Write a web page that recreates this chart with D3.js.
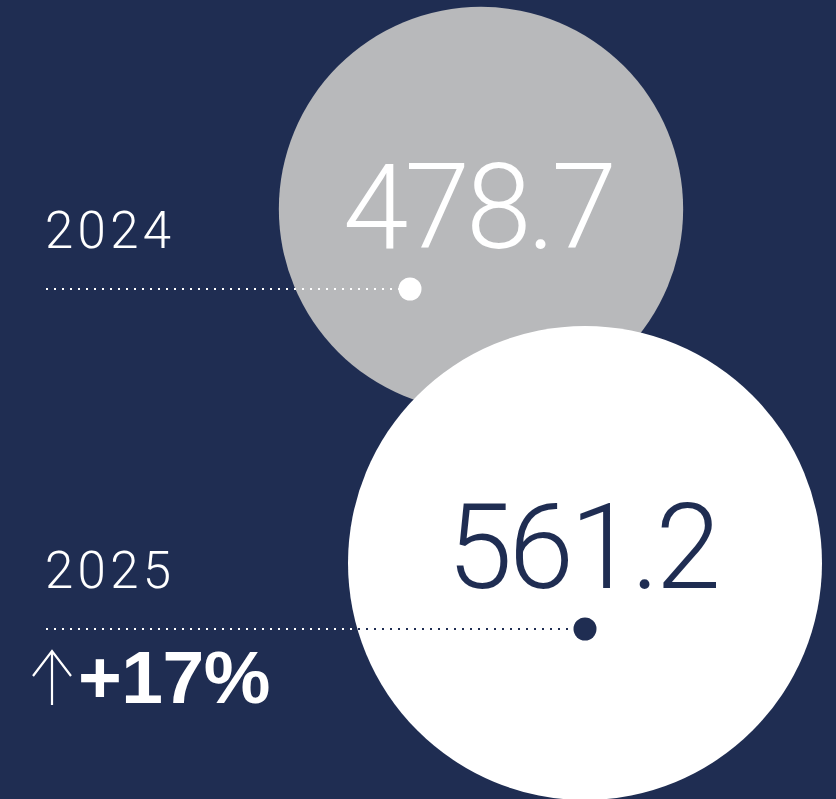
<!DOCTYPE html>
<html>
<head>
<meta charset="utf-8">
<script src="https://cdn.jsdelivr.net/npm/d3@7/dist/d3.min.js"></script>
<style>
  html, body { margin: 0; padding: 0; background: #1f2d52; }
  svg { display: block; }
</style>
</head>
<body>
<svg id="chart" width="836" height="799"></svg>
<script>
// Values per year
const years = ["2024", "2025"];
const values = [478.7, 561.2];
const valueLabels = ["478.7", "561.2"];
const changeLabel = "+17%";

const W = 836, H = 799;
const navy = "#1f2d52";
const grey = "#b8b9bb";
const white = "#ffffff";

const svg = d3.select("#chart");
svg.append("rect").attr("width", W).attr("height", H).attr("fill", navy);

// Circle radius is proportional to value
const r = d3.scaleLinear().domain([0, d3.max(values)]).range([0, 237]);

// Row baselines for the year labels / value labels
const rowY = d3.scalePoint().domain(years).range([248, 588]);

// Circle centres and marker positions per row
const layout = [
  { cx: 481, cy: 209, fill: grey, text: white, dotX: 410, dotFill: white },
  { cx: 585, cy: 563, fill: white, text: navy, dotX: 585, dotFill: navy }
];

const rows = years.map((y, i) => ({ year: y, value: values[i], label: valueLabels[i], ...layout[i] }));

const lineX0 = 46;
const lineOffset = 41;
const lightFont = "Roboto, 'Helvetica Neue', Arial, sans-serif";

// Bubbles
svg.selectAll("circle.bubble")
  .data(rows)
  .join("circle")
  .attr("class", "bubble")
  .attr("cx", d => d.cx)
  .attr("cy", d => d.cy)
  .attr("r", d => r(d.value))
  .attr("fill", d => d.fill);

// Clip region for the 2025 bubble so the leader line switches colour inside it
svg.append("clipPath").attr("id", "clip-last")
  .append("circle")
  .attr("cx", rows[1].cx).attr("cy", rows[1].cy).attr("r", r(rows[1].value));

// Dotted leader lines (white everywhere)
svg.selectAll("line.leader")
  .data(rows)
  .join("line")
  .attr("class", "leader")
  .attr("x1", lineX0)
  .attr("x2", d => d.dotX - 9)
  .attr("y1", d => rowY(d.year) + lineOffset)
  .attr("y2", d => rowY(d.year) + lineOffset)
  .attr("stroke", white)
  .attr("stroke-width", 2)
  .attr("stroke-dasharray", "2 6");

// Navy part of the 2025 leader inside the white bubble
svg.append("line")
  .attr("x1", lineX0)
  .attr("x2", rows[1].dotX - 9)
  .attr("y1", rowY(rows[1].year) + lineOffset)
  .attr("y2", rowY(rows[1].year) + lineOffset)
  .attr("stroke", navy)
  .attr("stroke-width", 2)
  .attr("stroke-dasharray", "2 6")
  .attr("clip-path", "url(#clip-last)");

// Marker dots
svg.selectAll("circle.marker")
  .data(rows)
  .join("circle")
  .attr("class", "marker")
  .attr("cx", d => d.dotX)
  .attr("cy", d => rowY(d.year) + lineOffset)
  .attr("r", 11.5)
  .attr("fill", d => d.dotFill);

// Year labels
svg.selectAll("text.year")
  .data(rows)
  .join("text")
  .attr("class", "year")
  .attr("x", 45)
  .attr("y", d => rowY(d.year))
  .attr("fill", white)
  .attr("font-family", lightFont)
  .attr("font-weight", 300)
  .attr("font-size", 51)
  .attr("letter-spacing", 4.3)
  .text(d => d.year);

// Value labels inside bubbles
svg.selectAll("text.value")
  .data(rows)
  .join("text")
  .attr("class", "value")
  .attr("x", d => d.cx - 3)
  .attr("y", d => rowY(d.year))
  .attr("text-anchor", "middle")
  .attr("fill", d => d.text)
  .attr("font-family", lightFont)
  .attr("font-weight", 300)
  .attr("font-size", 118)
  .attr("letter-spacing", -4)
  .text(d => d.label);

// Change indicator: arrow + percentage
const changeY = 703;
svg.append("path")
  .attr("d", "M52,705 L52,651 M33,676 L52,651 L71,676")
  .attr("fill", "none")
  .attr("stroke", white)
  .attr("stroke-width", 2.2);

svg.append("text")
  .attr("x", 78)
  .attr("y", changeY)
  .attr("fill", white)
  .attr("font-family", "'Liberation Sans', Arial, sans-serif")
  .attr("font-weight", 700)
  .attr("font-size", 75)
  .attr("letter-spacing", -0.5)
  .text(changeLabel);
</script>
</body>
</html>
